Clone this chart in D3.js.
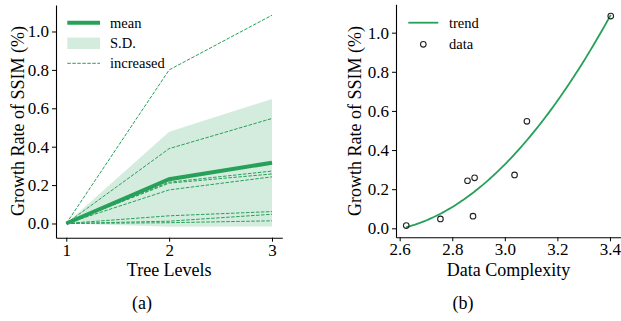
<!DOCTYPE html>
<html>
<head>
<meta charset="utf-8">
<script src="https://cdn.jsdelivr.net/npm/d3@7"></script>
<style>
  html, body { margin: 0; padding: 0; background: #fff; }
  svg { display: block; }
  text { font-family: "Liberation Serif", "Times New Roman", serif; fill: #000; }
</style>
</head>
<body>
<svg id="chart" width="621" height="321"></svg>
<script>
// ---- data ----
const treeLevels = [1, 2, 3];
const complexity = [2.625, 2.755, 2.858, 2.879, 2.885, 3.037, 3.084, 3.403];
const growthLevel1 = [0, 0, 0, 0, 0, 0, 0, 0];
const growthLevel2 = [0.004, 0.012, 0.175, 0.04, 0.21, 0.215, 0.39, 0.80];
const growthLevel3 = [0.014, 0.048, 0.243, 0.062, 0.258, 0.273, 0.547, 1.085];
const yTicks = [0.0, 0.2, 0.4, 0.6, 0.8, 1.0];
const xTicksA = [1, 2, 3];
const xTicksB = [2.6, 2.8, 3.0, 3.2, 3.4];
const legendA = ["mean", "S.D.", "increased"];
const legendB = ["trend", "data"];

const green = "#27a059";
const svg = d3.select("#chart");

// per-dataset series across levels
const series = complexity.map((c, i) => [growthLevel1[i], growthLevel2[i], growthLevel3[i]]);
const levelVals = [growthLevel1, growthLevel2, growthLevel3];
const stats = levelVals.map((vals, k) => {
  const m = d3.mean(vals);
  const sd = Math.sqrt(d3.mean(vals, v => (v - m) * (v - m)));
  return { level: treeLevels[k], mean: m, lo: m - sd, hi: m + sd };
});

function drawAxes(g, x, y, xTicks, xFmt, yFmt) {
  const [x0, x1] = x.range();
  const [y0, y1] = y.range();
  const xa = g.append("g").attr("transform", `translate(0,${y0})`)
    .call(d3.axisBottom(x).tickValues(xTicks).tickFormat(xFmt).tickSize(4).tickPadding(3).tickSizeOuter(0));
  const ya = g.append("g").attr("transform", `translate(${x0},0)`)
    .call(d3.axisLeft(y).tickValues(yTicks).tickFormat(yFmt).tickSize(4).tickPadding(3).tickSizeOuter(0));
  [xa, ya].forEach(a => {
    a.attr("font-family", null).attr("font-size", null);
    a.select(".domain").attr("stroke", "#000").attr("stroke-width", 1.1);
    a.selectAll(".tick line").attr("stroke", "#000").attr("stroke-width", 1);
    a.selectAll(".tick text").style("font-family", '"Liberation Serif", serif').style("font-size", "17px").attr("fill", "#000");
  });
  xa.selectAll(".tick text").attr("dy", "0.64em");
}

// ---------- Panel (a) ----------
const xA = d3.scaleLinear().domain([0.9, 3.1]).range([56, 282.3]);
const yA = d3.scaleLinear().domain([-0.074, 1.138]).range([237.7, 5]);
const gA = svg.append("g");

gA.append("path")
  .datum(stats)
  .attr("d", d3.area().x(d => xA(d.level)).y0(d => yA(d.lo)).y1(d => yA(d.hi)))
  .attr("fill", green).attr("fill-opacity", 0.2).attr("stroke", "none");

const lineA = d3.line().x((d, k) => xA(treeLevels[k])).y(d => yA(d));
gA.selectAll("path.inc").data(series).join("path")
  .attr("class", "inc")
  .attr("d", lineA)
  .attr("fill", "none").attr("stroke", green).attr("stroke-width", 1)
  .attr("stroke-dasharray", "3.5,1.5");

gA.append("path")
  .datum(stats)
  .attr("d", d3.line().x(d => xA(d.level)).y(d => yA(d.mean)))
  .attr("fill", "none").attr("stroke", green).attr("stroke-width", 4);

drawAxes(gA, xA, yA, xTicksA, d3.format("d"), d3.format(".1f"));

gA.append("text").attr("x", 169.2).attr("y", 275.5).attr("text-anchor", "middle")
  .style("font-size", "18px").text("Tree Levels");
gA.append("text").attr("transform", "translate(24,121) rotate(-90)").attr("text-anchor", "middle")
  .style("font-size", "18px").text("Growth Rate of SSIM (%)");

// legend (a)
const legA = gA.append("g");
const rowsA = [22.7, 43.3, 63.3];
legA.append("line").attr("x1", 67.3).attr("x2", 100).attr("y1", rowsA[0]).attr("y2", rowsA[0])
  .attr("stroke", green).attr("stroke-width", 4);
legA.append("rect").attr("x", 67.3).attr("y", rowsA[1] - 5.7).attr("width", 32.7).attr("height", 11.4)
  .attr("fill", green).attr("fill-opacity", 0.2);
legA.append("line").attr("x1", 67.3).attr("x2", 100).attr("y1", rowsA[2]).attr("y2", rowsA[2])
  .attr("stroke", green).attr("stroke-width", 1).attr("stroke-dasharray", "3.5,1.5");
legendA.forEach((t, i) => legA.append("text").attr("x", 110).attr("y", rowsA[i] + 5)
  .style("font-size", "14.5px").text(t));

// ---------- Panel (b) ----------
const xB = d3.scaleLinear().domain([2.586, 3.442]).range([396, 621]);
const yB = d3.scaleLinear().domain([-0.046, 1.145]).range([237.3, 4.3]);
const gB = svg.append("g");

// quadratic least-squares fit of the data
function polyfit2(xs, ys) {
  const n = xs.length, xm = d3.mean(xs);
  const t = xs.map(v => v - xm);
  const S = k => d3.sum(t, v => Math.pow(v, k));
  const Sy = k => d3.sum(t, (v, i) => Math.pow(v, k) * ys[i]);
  const A = [[n, S(1), S(2)], [S(1), S(2), S(3)], [S(2), S(3), S(4)]];
  const b = [Sy(0), Sy(1), Sy(2)];
  for (let i = 0; i < 3; i++) {
    for (let j = i + 1; j < 3; j++) {
      const f = A[j][i] / A[i][i];
      for (let k = i; k < 3; k++) A[j][k] -= f * A[i][k];
      b[j] -= f * b[i];
    }
  }
  const c = [0, 0, 0];
  for (let i = 2; i >= 0; i--) {
    let s = b[i];
    for (let k = i + 1; k < 3; k++) s -= A[i][k] * c[k];
    c[i] = s / A[i][i];
  }
  return v => c[0] + c[1] * (v - xm) + c[2] * (v - xm) * (v - xm);
}
const fit = polyfit2(complexity, growthLevel3);
const xExt = d3.extent(complexity);
const trendX = d3.range(0, 101).map(i => xExt[0] + (xExt[1] - xExt[0]) * i / 100);

gB.append("path")
  .datum(trendX)
  .attr("d", d3.line().x(d => xB(d)).y(d => yB(fit(d))))
  .attr("fill", "none").attr("stroke", green).attr("stroke-width", 1.8);

gB.selectAll("circle.pt").data(complexity).join("circle")
  .attr("class", "pt")
  .attr("cx", d => xB(d)).attr("cy", (d, i) => yB(growthLevel3[i]))
  .attr("r", 2.8).attr("fill", "none").attr("stroke", "#222").attr("stroke-width", 1.1);

drawAxes(gB, xB, yB, xTicksB, d3.format(".1f"), d3.format(".1f"));

gB.append("text").attr("x", 508.5).attr("y", 275.5).attr("text-anchor", "middle")
  .style("font-size", "18px").text("Data Complexity");
gB.append("text").attr("transform", "translate(361,121) rotate(-90)").attr("text-anchor", "middle")
  .style("font-size", "18px").text("Growth Rate of SSIM (%)");

const legB = gB.append("g");
const rowsB = [22.7, 44.3];
legB.append("line").attr("x1", 408.3).attr("x2", 438.3).attr("y1", rowsB[0]).attr("y2", rowsB[0])
  .attr("stroke", green).attr("stroke-width", 1.8);
legB.append("circle").attr("cx", 423.3).attr("cy", rowsB[1]).attr("r", 2.8)
  .attr("fill", "none").attr("stroke", "#222").attr("stroke-width", 1.1);
legendB.forEach((t, i) => legB.append("text").attr("x", 449).attr("y", rowsB[i] + 5)
  .style("font-size", "14.5px").text(t));

// captions
svg.append("text").attr("x", 142).attr("y", 309).attr("text-anchor", "middle").style("font-size", "18px").text("(a)");
svg.append("text").attr("x", 463).attr("y", 309).attr("text-anchor", "middle").style("font-size", "18px").text("(b)");
</script>
</body>
</html>
